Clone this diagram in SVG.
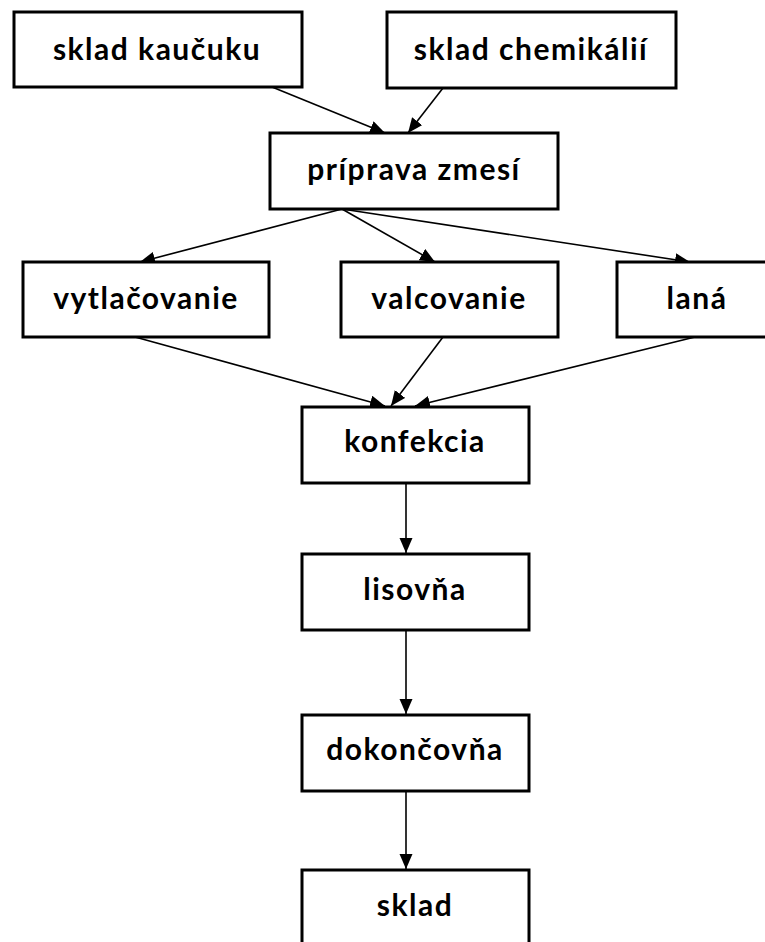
<svg xmlns="http://www.w3.org/2000/svg" width="765" height="942" viewBox="0 0 765 942">
  <style>
    .box rect { fill: #ffffff; stroke: #000000; stroke-width: 3; }
    .box text { font-family: "Lato", "Open Sans", "Liberation Sans", sans-serif; font-weight: 700; font-size: 30px; letter-spacing: 1.5px; fill: #000000; text-anchor: middle; }
    #connectors line { stroke: #000000; stroke-width: 1.6; marker-end: url(#arrow); }
  </style>
  <defs>
    <marker id="arrow" markerUnits="userSpaceOnUse" markerWidth="16" markerHeight="14" refX="15" refY="6.5" orient="auto">
      <path d="M0,0 L15,6.5 L0,13 z" fill="#000000"/>
    </marker>
  </defs>
  <rect width="765" height="942" fill="#ffffff"/>

  <g id="connectors">
    <line x1="272" y1="87" x2="385" y2="133"/>
    <line x1="443" y1="88" x2="408" y2="133"/>
    <line x1="342" y1="209" x2="140" y2="262"/>
    <line x1="342" y1="209" x2="435" y2="262"/>
    <line x1="342" y1="209" x2="690" y2="262"/>
    <line x1="135" y1="337" x2="385" y2="406"/>
    <line x1="443" y1="337" x2="391" y2="406"/>
    <line x1="695" y1="337" x2="415" y2="406"/>
    <line x1="406" y1="483" x2="406" y2="553"/>
    <line x1="406" y1="630" x2="406" y2="714"/>
    <line x1="406" y1="791" x2="406" y2="869"/>
  </g>

  <g id="sklad-kaucuku" class="box">
    <rect x="14" y="12" width="288" height="75"/>
    <text x="157" y="60">sklad kaučuku</text>
  </g>
  <g id="sklad-chemikalii" class="box">
    <rect x="387" y="12" width="289" height="76"/>
    <text x="531" y="60">sklad chemikálií</text>
  </g>
  <g id="priprava-zmesi" class="box">
    <rect x="270" y="133" width="288" height="76"/>
    <text x="414" y="180">príprava zmesí</text>
  </g>
  <g id="vytlacovanie" class="box">
    <rect x="23" y="262" width="246" height="75"/>
    <text x="146" y="309">vytlačovanie</text>
  </g>
  <g id="valcovanie" class="box">
    <rect x="341" y="262" width="217" height="75"/>
    <text x="449" y="309">valcovanie</text>
  </g>
  <g id="lana" class="box">
    <rect x="617" y="262" width="160" height="75"/>
    <text x="697" y="309">laná</text>
  </g>
  <g id="konfekcia" class="box">
    <rect x="302" y="407" width="227" height="76"/>
    <text x="415" y="452">konfekcia</text>
  </g>
  <g id="lisovna" class="box">
    <rect x="302" y="554" width="227" height="76"/>
    <text x="415" y="600">lisovňa</text>
  </g>
  <g id="dokoncovna" class="box">
    <rect x="302" y="715" width="227" height="76"/>
    <text x="415" y="760">dokončovňa</text>
  </g>
  <g id="sklad" class="box">
    <rect x="302" y="870" width="227" height="82"/>
    <text x="415" y="916">sklad</text>
  </g>
</svg>
